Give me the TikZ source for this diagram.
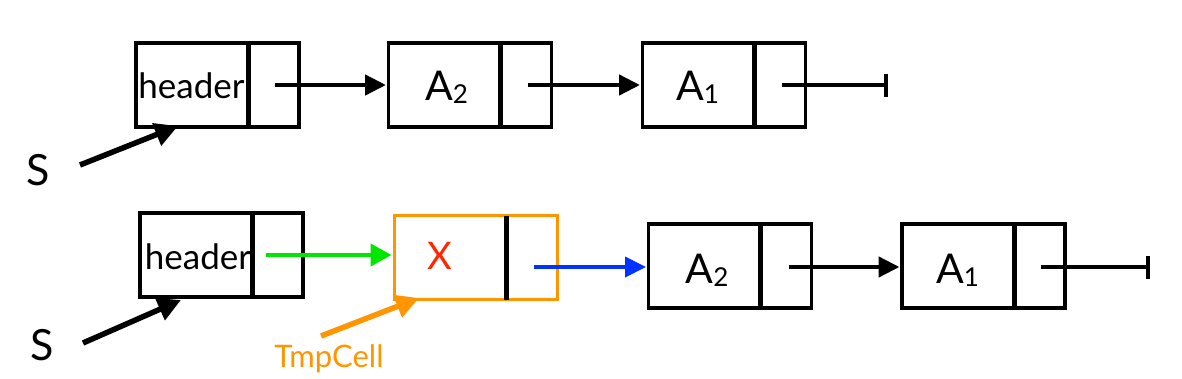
\documentclass[tikz,border=0pt]{standalone}
\usepackage{fontspec}
\setmainfont{Lato}
\usetikzlibrary{arrows.meta}
\definecolor{tgreen}{RGB}{0,230,0}
\definecolor{tblue}{RGB}{0,51,255}
\definecolor{torange}{RGB}{255,149,0}
\definecolor{tred}{RGB}{255,38,0}
\newcommand{\subtxt}[1]{{\fontsize{26}{26}\selectfont\raisebox{-3pt}{#1}}}
\begin{document}
\begin{tikzpicture}[x=1pt,y=-1pt,
  cell/.style={draw, line width=3.5pt, minimum width=163pt, minimum height=84pt, inner sep=0pt, outer sep=0pt},
  tmpcell/.style={cell, draw=torange, line width=3pt},
  divider/.style={line width=5pt},
  lbl/.style={anchor=base, inner sep=0pt, font=\fontsize{41}{41}\selectfont},
  hdr/.style={anchor=base, inner sep=0pt, font=\fontsize{35}{35}\selectfont},
  ptr/.style={line width=4.5pt, -{Triangle[length=21pt,width=20pt]}, shorten >=2.5pt},
  nilptr/.style={line width=4.5pt, -{Bar[width=23pt]}},
  sarrow/.style={line width=5.5pt, -{Triangle[length=23pt,width=23pt]}},
]
\useasboundingbox (0,0) rectangle (1182,378);

% ---------- top row ----------
\node[cell] (h1) at (217.5,85) {};
\node[cell] (a21) at (470,85) {};
\node[cell] (a11) at (724,85) {};
\foreach \n in {h1,a21,a11}
  \draw[divider] ([xshift=112pt]\n.north west) -- ([xshift=112pt]\n.south west);
\node[hdr] (th1) at (191.5,98) {header};
\node[lbl] (ta21) at (446.5,100) {A\subtxt{2}};
\node[lbl] (ta11) at (697.5,100) {A\subtxt{1}};
\coordinate (ph1) at ([xshift=139pt]h1.west);
\coordinate (pa21) at ([xshift=139pt]a21.west);
\coordinate (pa11) at ([xshift=139pt]a11.west);
\coordinate (nil1) at (888,85);
\draw[ptr] (ph1) -- (a21.west);
\draw[ptr] (pa21) -- (a11.west);
\draw[nilptr] (pa11) -- (nil1);

\node[anchor=base, inner sep=0pt, font=\fontsize{43}{43}\selectfont] (S1) at (38,185) {S};
\coordinate (s1start) at (80,165);
\draw[sarrow] (s1start) -- ([xshift=42pt,yshift=1pt]h1.south west);

% ---------- bottom row ----------
\node[cell] (h2) at (221.5,255) {};
\node[tmpcell] (tmp) at (475.5,257.5) {};
\node[cell] (a22) at (730,266) {};
\node[cell] (a12) at (983.5,266) {};
\foreach \n in {h2,tmp,a22,a12}
  \draw[divider] ([xshift=112pt]\n.north west) -- ([xshift=112pt]\n.south west);
\node[hdr] (th2) at (198,269) {header};
\node[anchor=base, inner sep=0pt, text=tred, font=\fontsize{38}{38}\selectfont] (tx) at (440,269) {X};
\node[lbl] (ta22) at (707,283) {A\subtxt{2}};
\node[lbl] (ta12) at (957.5,283) {A\subtxt{1}};
\coordinate (ph2) at ([xshift=126pt]h2.west);
\coordinate (ptmp) at ([xshift=140pt,yshift=-9.5pt]tmp.west);
\coordinate (pa22) at ([xshift=140pt,yshift=-1pt]a22.west);
\coordinate (pa12) at ([xshift=139pt,yshift=-1pt]a12.west);
\coordinate (nil2) at (1150,267);
\draw[ptr, draw=tgreen, fill=tgreen, -{Triangle[length=21pt,width=22pt]}] (ph2) -- (ph2 -| tmp.west);
\draw[ptr, draw=tblue, fill=tblue, line width=4pt] (ptmp) -- (ptmp -| a22.west);
\draw[ptr] (pa22) -- (pa22 -| a12.west);
\draw[nilptr] (pa12) -- (nil2);

\node[anchor=base, inner sep=0pt, font=\fontsize{43}{43}\selectfont] (S2) at (42,360) {S};
\coordinate (s2start) at (83,343);
\draw[sarrow] (s2start) -- ([xshift=41pt,yshift=-3pt]h2.south west);

\node[anchor=base, inner sep=0pt, text=torange, font=\fontsize{31}{31}\selectfont] (tc) at (329,367) {TmpCell};
\coordinate (tcstart) at (321,336);
\draw[sarrow, draw=torange, fill=torange] (tcstart) -- ([xshift=25pt,yshift=1.5pt]tmp.south west);
\end{tikzpicture}
\end{document}
